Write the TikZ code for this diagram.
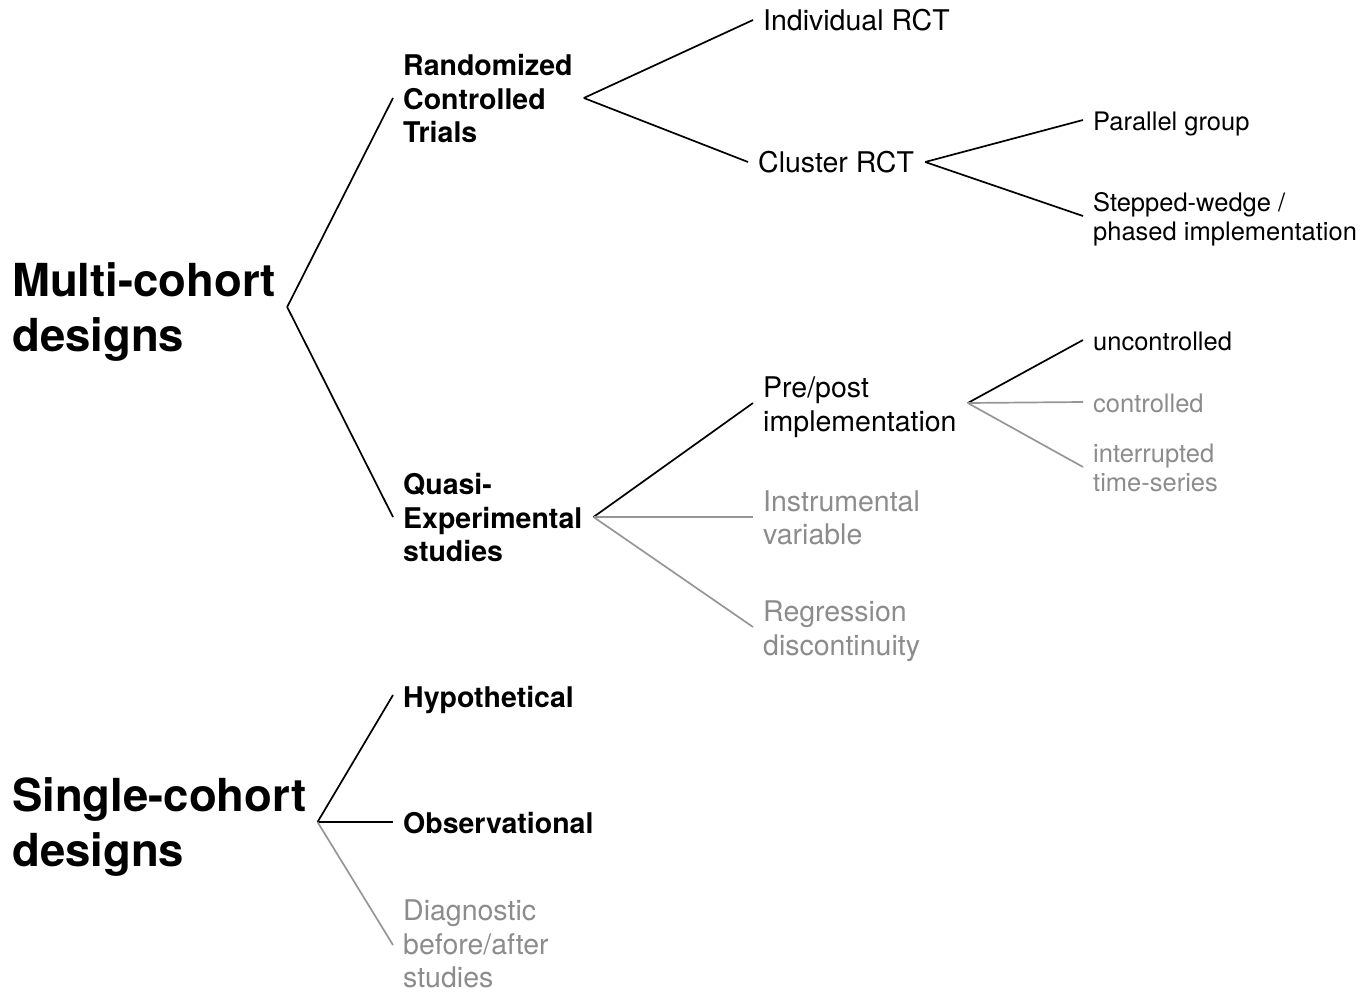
\documentclass[tikz,border=0pt]{standalone}
\usepackage{fontspec}
\setmainfont{TeX Gyre Heros}
\definecolor{fade}{RGB}{140,140,140}
\definecolor{fadeline}{RGB}{150,150,150}
\tikzset{
  lbl/.style={anchor=west, inner sep=0pt, align=left, text=black},
  big/.style={lbl, font=\fontsize{45.5}{55}\selectfont\bfseries},
  midb/.style={lbl, font=\fontsize{28.5}{33.5}\selectfont\bfseries},
  mid/.style={lbl, font=\fontsize{28.5}{33.5}\selectfont},
  sml/.style={lbl, font=\fontsize{25.5}{29}\selectfont},
  faded/.style={text=fade},
  dark/.style={draw=black, line width=1.7pt},
  light/.style={draw=fadeline, line width=1.7pt},
}
% #1 style, #2 parent node, #3 its text shift, #4 child node, #5 its text shift
\newcommand{\conn}[5]{\draw[#1] ([xshift=11pt,yshift=#3pt]#2.east) -- ([xshift=-10pt,yshift=#5pt]#4.west);}
\begin{document}
\begin{tikzpicture}[x=1pt,y=-1pt]
\useasboundingbox (0,0) rectangle (1369,993);
% level 0
\node[big,yshift=-5pt] (multi) at (12,307) {Multi-cohort\\designs};
\node[big,yshift=-5pt] (single) at (12,822) {Single-cohort\\designs};
% level 1
\node[midb,yshift=-1pt] (rct) at (403,98) {Randomized\\Controlled\\Trials};
\node[midb,yshift=-1pt] (quasi) at (403,517) {Quasi-\\Experimental\\studies};
\node[midb,yshift=-5pt] (hypo) at (403,695) {Hypothetical};
\node[midb,yshift=-1pt] (obs) at (403,822) {Observational};
\node[mid,faded,yshift=1pt] (diag) at (403,945) {Diagnostic\\before/after\\studies};
% level 2
\node[mid] (ind) at (763,20) {Individual RCT};
\node[mid] (cluster) at (758,162) {Cluster RCT};
\node[mid,yshift=-4pt] (prepost) at (763,403) {Pre/post\\implementation};
\node[mid,faded,yshift=-1pt] (instr) at (763,517) {Instrumental\\variable};
\node[mid,faded,yshift=-4pt] (regr) at (763,627) {Regression\\discontinuity};
% level 3
\node[sml,yshift=-4pt] (parallel) at (1093,120) {Parallel group};
\node[sml,yshift=-3pt] (stepped) at (1093,216) {Stepped-wedge /\\phased implementation};
\node[sml,yshift=-1pt] (unc) at (1093,340) {uncontrolled};
\node[sml,faded,yshift=-1pt] (ctrl) at (1093,402) {controlled};
\node[sml,faded,yshift=-1pt] (intr) at (1093,467) {interrupted\\time-series};
% connectors
\conn{dark}{multi}{5}{rct}{1}
\conn{dark}{multi}{5}{quasi}{1}
\conn{dark}{rct}{1}{ind}{0}
\conn{dark}{rct}{1}{cluster}{0}
\conn{dark}{cluster}{0}{parallel}{4}
\conn{dark}{cluster}{0}{stepped}{3}
\conn{dark}{quasi}{1}{prepost}{4}
\conn{light}{quasi}{1}{instr}{1}
\conn{light}{quasi}{1}{regr}{4}
\conn{dark}{prepost}{4}{unc}{1}
\conn{light}{prepost}{4}{ctrl}{1}
\conn{light}{prepost}{4}{intr}{1}
\conn{dark}{single}{5}{hypo}{5}
\conn{dark}{single}{5}{obs}{1}
\conn{light}{single}{5}{diag}{-1}
\end{tikzpicture}
\end{document}
